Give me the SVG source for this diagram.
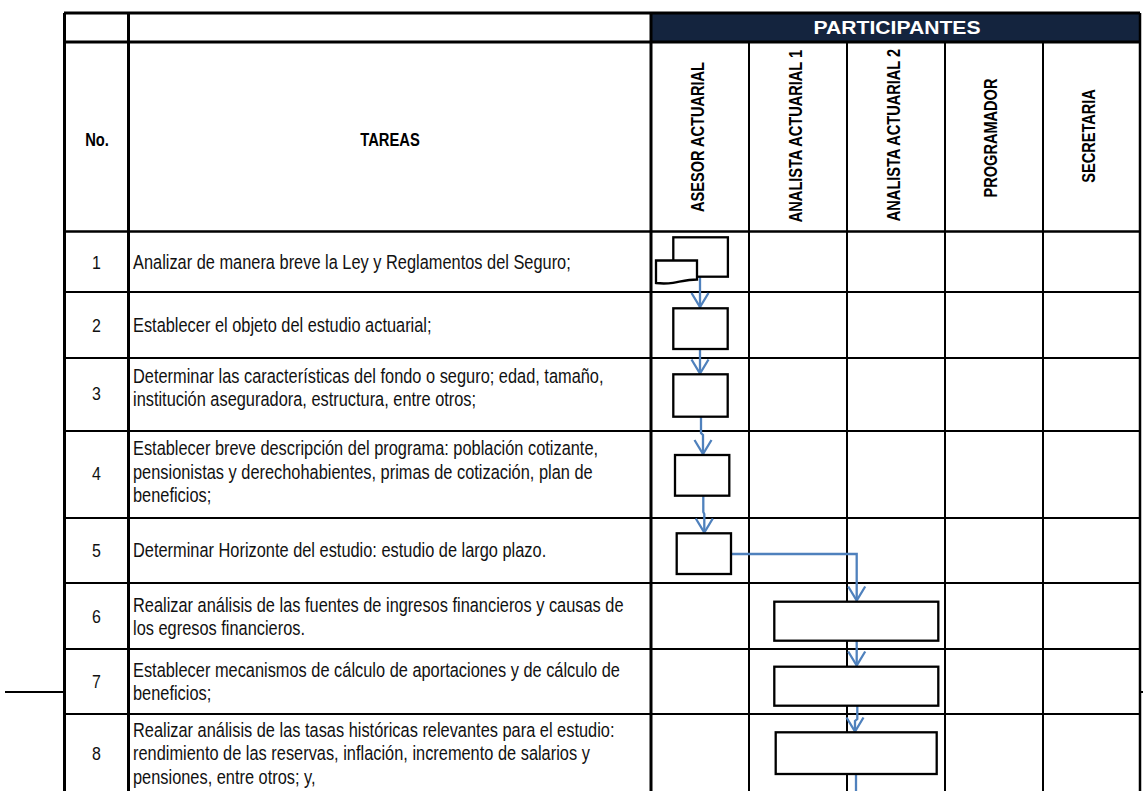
<svg xmlns="http://www.w3.org/2000/svg" width="1143" height="791" viewBox="0 0 1143 791">
<style>
.bg{fill:#ffffff}
.thick{stroke:#000;stroke-width:3;fill:none}
.med{stroke:#000;stroke-width:2.5;fill:none}
.thin{stroke:#000;stroke-width:2;fill:none}
.box{fill:#fff;stroke:#000;stroke-width:2.3}
.conn{fill:none;stroke:#4F81BD;stroke-width:2.3}
.t{font-family:"Liberation Sans",Arial,sans-serif;font-size:19.5px;fill:#111}
.num{font-family:"Liberation Sans",Arial,sans-serif;font-size:19px;fill:#111;text-anchor:middle}
.hb{font-family:"Liberation Sans",Arial,sans-serif;font-size:18px;font-weight:bold;fill:#000;text-anchor:middle}
.ph{font-family:"Liberation Sans",Arial,sans-serif;font-size:19px;font-weight:bold;fill:#fff;text-anchor:middle}
</style>
<defs>
<marker id="arr" markerUnits="userSpaceOnUse" markerWidth="20" markerHeight="20" refX="0" refY="0" orient="auto" overflow="visible">
<path d="M-14,-8.5 L0,0 L-14,8.5" fill="none" stroke="#4F81BD" stroke-width="2.3"/>
</marker>
</defs>
<rect class="bg" x="0" y="0" width="1143" height="791"/>

<g id="table">
<rect x="651" y="13" width="489" height="29" fill="#14243E"/>
<path class="thick" d="M64,13 H1140 M64,42 H1140"/>
<path class="med" d="M64,231.5 H1140"/>
<path class="thin" d="M64,292 H1140 M64,358 H1140 M64,431 H1140 M64,518 H1140 M64,583 H1140 M64,649 H1140 M64,714 H1140"/>
<path class="thick" d="M64.5,13 V791 M128.5,13 V791 M651,13 V791"/>
<path class="thin" d="M749,42 V791 M847,42 V791 M945,42 V791 M1043,42 V791"/>
<path class="med" d="M1140,13 V791"/>
<path class="thin" d="M5,692 H64 M1140,692 H1143"/>
</g>

<g id="header">
<text class="ph" x="897" y="33.5" textLength="167" lengthAdjust="spacingAndGlyphs">PARTICIPANTES</text>
<text class="hb" transform="translate(97,146) scale(0.82 1)">No.</text>
<text class="hb" transform="translate(390,146) scale(0.82 1)">TAREAS</text>
<text class="hb" transform="translate(703.5,137) rotate(-90) scale(0.81 1)">ASESOR ACTUARIAL</text>
<text class="hb" transform="translate(801.5,136) rotate(-90) scale(0.81 1)">ANALISTA ACTUARIAL 1</text>
<text class="hb" transform="translate(899.5,135) rotate(-90) scale(0.81 1)">ANALISTA ACTUARIAL 2</text>
<text class="hb" transform="translate(997,138) rotate(-90) scale(0.81 1)">PROGRAMADOR</text>
<text class="hb" transform="translate(1095,136) rotate(-90) scale(0.81 1)">SECRETARIA</text>
</g>

<g id="row1">
<text class="num" transform="translate(96.5,269) scale(0.84 1)">1</text>
<text class="t" transform="translate(133,269) scale(0.84 1)">Analizar de manera breve la Ley y Reglamentos del Seguro;</text>
</g>
<g id="row2">
<text class="num" transform="translate(96.5,332) scale(0.84 1)">2</text>
<text class="t" transform="translate(133,332) scale(0.84 1)">Establecer el objeto del estudio actuarial;</text>
</g>
<g id="row3">
<text class="num" transform="translate(96.5,399.5) scale(0.84 1)">3</text>
<text class="t" transform="translate(133,382.5) scale(0.84 1)">Determinar las características del fondo o seguro; edad, tamaño,</text>
<text class="t" transform="translate(133,405.5) scale(0.84 1)">institución aseguradora, estructura, entre otros;</text>
</g>
<g id="row4">
<text class="num" transform="translate(96.5,480) scale(0.84 1)">4</text>
<text class="t" transform="translate(133,455) scale(0.84 1)">Establecer breve descripción del programa: población cotizante,</text>
<text class="t" transform="translate(133,478.5) scale(0.84 1)">pensionistas y derechohabientes, primas de cotización, plan de</text>
<text class="t" transform="translate(133,502) scale(0.84 1)">beneficios;</text>
</g>
<g id="row5">
<text class="num" transform="translate(96.5,557) scale(0.84 1)">5</text>
<text class="t" transform="translate(133,557) scale(0.84 1)">Determinar Horizonte del estudio: estudio de largo plazo.</text>
</g>
<g id="row6">
<text class="num" transform="translate(96.5,623) scale(0.84 1)">6</text>
<text class="t" transform="translate(133,611.5) scale(0.84 1)">Realizar análisis de las fuentes de ingresos financieros y causas de</text>
<text class="t" transform="translate(133,634.5) scale(0.84 1)">los egresos financieros.</text>
</g>
<g id="row7">
<text class="num" transform="translate(96.5,688) scale(0.84 1)">7</text>
<text class="t" transform="translate(133,676.5) scale(0.84 1)">Establecer mecanismos de cálculo de aportaciones y de cálculo de</text>
<text class="t" transform="translate(133,699.5) scale(0.84 1)">beneficios;</text>
</g>
<g id="row8">
<text class="num" transform="translate(96.5,760) scale(0.84 1)">8</text>
<text class="t" transform="translate(133,736.5) scale(0.84 1)">Realizar análisis de las tasas históricas relevantes para el estudio:</text>
<text class="t" transform="translate(133,760) scale(0.84 1)">rendimiento de las reservas, inflación, incremento de salarios y</text>
<text class="t" transform="translate(133,783.5) scale(0.84 1)">pensiones, entre otros; y,</text>
</g>

<g id="connectors">
<path class="conn" d="M700,277 V307" marker-end="url(#arr)"/>
<path class="conn" d="M700,349 V373.5" marker-end="url(#arr)"/>
<path class="conn" d="M701,417 V433 L703,435 V454" marker-end="url(#arr)"/>
<path class="conn" d="M703.3,496 V512 L704.3,514 V532.5" marker-end="url(#arr)"/>
<path class="conn" d="M731,554 H856.7 V600.5" marker-end="url(#arr)"/>
<path class="conn" d="M856.7,641 V665.5" marker-end="url(#arr)"/>
<path class="conn" d="M857.3,706 V719 L855,721 V731.5" marker-end="url(#arr)"/>
<path class="conn" d="M856,774 V791"/>
</g>

<g id="n1">
<rect class="box" x="673.3" y="237.3" width="54.6" height="39.4"/>
<path class="box" d="M656,260.5 H697 V279.5 C688,279.5 681,281.5 673,282.8 C665,284 660,283.5 656,283 Z"/>
</g>
<g id="n2"><rect class="box" x="673.3" y="308.3" width="54.4" height="40.7"/></g>
<g id="n3"><rect class="box" x="673.3" y="374.3" width="54.4" height="42.4"/></g>
<g id="n4"><rect class="box" x="675" y="455" width="54.3" height="40.7"/></g>
<g id="n5"><rect class="box" x="676.7" y="533.3" width="54.3" height="40.7"/></g>
<g id="n6"><rect class="box" x="774.3" y="601.7" width="164" height="39"/></g>
<g id="n7"><rect class="box" x="774.3" y="666.7" width="164" height="39"/></g>
<g id="n8"><rect class="box" x="775.7" y="732.3" width="161" height="41.7"/></g>
</svg>
